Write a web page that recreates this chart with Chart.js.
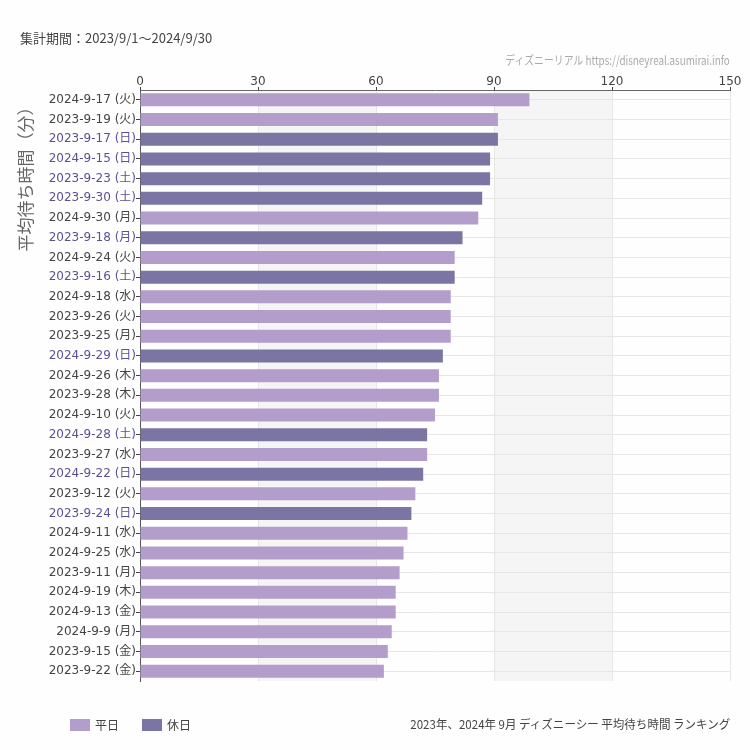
<!DOCTYPE html>
<html lang="ja">
<head>
<meta charset="utf-8">
<script src="https://cdn.jsdelivr.net/npm/chart.js@4/dist/chart.umd.min.js"></script>
<style>
  html, body { margin: 0; padding: 0; background: #fdfefd; }
  #wrap { position: relative; width: 750px; height: 750px; }
  canvas { position: absolute; left: 0; top: 0; }
  .txt { position: absolute; white-space: nowrap; font-family: "Noto Sans CJK JP", "DejaVu Sans", sans-serif; }
  #period { left: 20px; top: 28px; font-size: 13px; color: #444; }
  #credit { right: 20px; top: 51px; font-size: 12px; color: #aaa; transform: scaleX(0.82); transform-origin: right center; }
  #caption { right: 20px; top: 715px; font-size: 12px; color: #444; transform: scaleX(0.96); transform-origin: right center; }
</style>
</head>
<body>
<div id="wrap">
  <canvas id="chart" width="750" height="750"></canvas>
  <div class="txt" id="period">集計期間：2023/9/1～2024/9/30</div>
  <div class="txt" id="credit">ディズニーリアル https://disneyreal.asumirai.info</div>
  <div class="txt" id="caption">2023年、2024年 9月 ディズニーシー 平均待ち時間 ランキング</div>
</div>
<script>
const categories = [
  '2024-9-17 (火)', '2023-9-19 (火)', '2023-9-17 (日)', '2024-9-15 (日)', '2023-9-23 (土)',
  '2023-9-30 (土)', '2024-9-30 (月)', '2023-9-18 (月)', '2024-9-24 (火)', '2023-9-16 (土)',
  '2024-9-18 (水)', '2023-9-26 (火)', '2023-9-25 (月)', '2024-9-29 (日)', '2024-9-26 (木)',
  '2023-9-28 (木)', '2024-9-10 (火)', '2024-9-28 (土)', '2023-9-27 (水)', '2024-9-22 (日)',
  '2023-9-12 (火)', '2023-9-24 (日)', '2024-9-11 (水)', '2024-9-25 (水)', '2023-9-11 (月)',
  '2024-9-19 (木)', '2024-9-13 (金)', '2024-9-9 (月)', '2023-9-15 (金)', '2023-9-22 (金)',
];
const waitMinutes = [
  99, 91, 91, 89, 89,
  87, 86, 82, 80, 80,
  79, 79, 79, 77, 76,
  76, 75, 73, 73, 72,
  70, 69, 68, 67, 66,
  65, 65, 64, 63, 62,
];
// 休日 = 土日祝
const holidayDates = [
  '2023-9-17 (日)', '2024-9-15 (日)', '2023-9-23 (土)', '2023-9-30 (土)', '2023-9-18 (月)',
  '2023-9-16 (土)', '2024-9-29 (日)', '2024-9-28 (土)', '2024-9-22 (日)', '2023-9-24 (日)',
];
const xTicks = [0, 30, 60, 90, 120, 150];
const shadedBands = [[30, 60], [90, 120]];

const WEEKDAY = '#b39dcb';
const HOLIDAY = '#7b75a3';

const isHoliday = (label) => holidayDates.includes(label);

const weekdayData = categories.map((c, i) => (isHoliday(c) ? null : waitMinutes[i]));
const holidayData = categories.map((c, i) => (isHoliday(c) ? waitMinutes[i] : null));

// 背景の帯 (30-60, 90-120)
const bandPlugin = {
  id: 'bands',
  beforeDraw(chart) {
    const { ctx, chartArea, scales: { x } } = chart;
    ctx.save();
    ctx.fillStyle = '#f4f5f4';
    shadedBands.forEach(([a, b]) => {
      const x0 = x.getPixelForValue(a);
      const x1 = x.getPixelForValue(b);
      ctx.fillRect(x0, chartArea.top, x1 - x0, chartArea.bottom - chartArea.top);
    });
    ctx.restore();
  },
};

// 凡例 (左下)
const legendPlugin = {
  id: 'bottomLegend',
  afterDraw(chart) {
    const { ctx } = chart;
    ctx.save();
    ctx.font = '12px "Noto Sans CJK JP", sans-serif';
    ctx.textBaseline = 'middle';
    let lx = 70;
    const ly = 725;
    chart.data.datasets.forEach((ds) => {
      ctx.fillStyle = ds.backgroundColor;
      ctx.fillRect(lx, ly - 6, 20, 12);
      ctx.fillStyle = '#444';
      ctx.fillText(ds.label, lx + 25, ly);
      lx += 25 + ctx.measureText(ds.label).width + 23;
    });
    ctx.restore();
  },
};

new Chart(document.getElementById('chart'), {
  type: 'bar',
  data: {
    labels: categories,
    datasets: [
      { label: '平日', data: weekdayData, backgroundColor: WEEKDAY },
      { label: '休日', data: holidayData, backgroundColor: HOLIDAY },
    ],
  },
  options: {
    indexAxis: 'y',
    responsive: false,
    animation: false,
    grouped: false,
    barPercentage: 0.66,
    categoryPercentage: 1,
    layout: { padding: { top: 64, right: 20, bottom: 69, left: 0 } },
    scales: {
      x: {
        position: 'top',
        min: 0,
        max: 150,
        afterBuildTicks: (scale) => { scale.ticks = xTicks.map((v) => ({ value: v })); },
        afterFit: (scale) => { scale.height = 26; },
        border: { color: '#666' },
        grid: { color: '#e6e6e6', tickColor: '#444', tickLength: 3 },
        ticks: { color: '#444', padding: -2, font: { family: '"DejaVu Sans", sans-serif', size: 12 } },
      },
      y: {
        afterFit: (scale) => { scale.width = 140; },
        border: { color: '#555' },
        grid: { color: '#e6e6e6', tickColor: '#444', tickLength: 4, offset: false },
        ticks: {
          padding: 0,
          color: (c) => (isHoliday(categories[c.index]) ? '#5b5096' : '#444'),
          font: { family: '"DejaVu Sans", "Noto Sans CJK JP", sans-serif', size: 12 },
        },
        title: {
          display: true,
          text: '平均待ち時間（分）　',
          align: 'end',
          color: '#666',
          padding: { top: 15, bottom: 0 },
          font: { family: '"Noto Sans CJK JP", sans-serif', size: 17 },
        },
      },
    },
    plugins: {
      legend: { display: false },
      tooltip: { enabled: false },
    },
  },
  plugins: [bandPlugin, legendPlugin],
});
</script>
</body>
</html>
